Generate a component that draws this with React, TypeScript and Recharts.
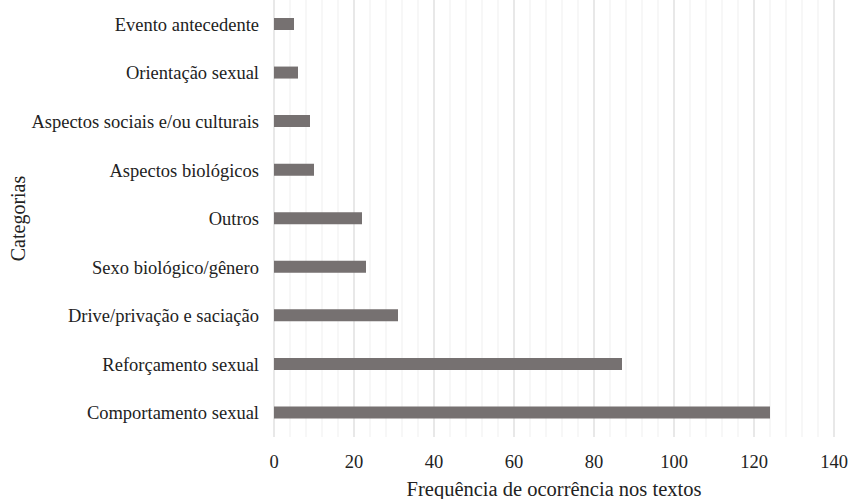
import React from 'react'
import { Bar, BarChart, CartesianGrid, XAxis, YAxis } from 'recharts'

const categories = [
  'Evento antecedente',
  'Orientação sexual',
  'Aspectos sociais e/ou culturais',
  'Aspectos biológicos',
  'Outros',
  'Sexo biológico/gênero',
  'Drive/privação e saciação',
  'Reforçamento sexual',
  'Comportamento sexual',
]
const values = [5, 6, 9, 10, 22, 23, 31, 87, 124]
const xDomain: [number, number] = [0, 140]
const majorTicks = [0, 20, 40, 60, 80, 100, 120, 140]
const minorTicks = [
  0, 4, 8, 12, 16, 20, 24, 28, 32, 36, 40, 44, 48, 52, 56, 60, 64, 68, 72, 76,
  80, 84, 88, 92, 96, 100, 104, 108, 112, 116, 120, 124, 128, 132, 136, 140,
]

const data = categories.map((name, i) => ({ name, value: values[i] }))

const font = 'Liberation Serif, Times New Roman, serif'

// minor grid positions, every 4 units across the plot
const minorGrid = ({ xAxis, offset }: any) => {
  const s = xAxis && xAxis.scale
  if (typeof s === 'function') return minorTicks.map((t) => s(t))
  const [d0, d1] = xDomain
  return minorTicks.map((t) => offset.left + (offset.width * (t - d0)) / (d1 - d0))
}

export default function App() {
  return (
    <div style={{ position: 'absolute', left: 0, top: 0, width: 848, height: 499, background: '#fff' }}>
      <BarChart
        width={848}
        height={499}
        data={data}
        layout="vertical"
        margin={{ top: 0, right: 14, bottom: 0, left: 0 }}
        style={{ fontFamily: font }}
      >
        <CartesianGrid
          horizontal={false}
          stroke="#efefef"
          strokeWidth={1}
          verticalCoordinatesGenerator={minorGrid}
        />
        <CartesianGrid horizontal={false} stroke="#d9d9d9" strokeWidth={1} />
        <XAxis
          type="number"
          domain={xDomain}
          ticks={majorTicks}
          interval={0}
          height={62}
          tickSize={0}
          tickMargin={18}
          axisLine={false}
          tickLine={false}
          tick={{ fill: '#222', fontSize: 18.5, fontFamily: font }}
          label={{
            value: 'Frequência de ocorrência nos textos',
            position: 'insideBottom',
            offset: 3,
            style: { fill: '#222', fontSize: 20.5, fontFamily: font },
          }}
        />
        <YAxis
          type="category"
          dataKey="name"
          width={274}
          tickSize={0}
          tickMargin={15}
          axisLine={false}
          tickLine={false}
          interval={0}
          tick={{ fill: '#222', fontSize: 18.5, fontFamily: font }}
          label={{
            value: 'Categorias',
            angle: -90,
            position: 'insideLeft',
            offset: 18,
            style: { fill: '#222', fontSize: 20, fontFamily: font, textAnchor: 'middle' },
          }}
        />
        <Bar dataKey="value" fill="#767171" barSize={12} isAnimationActive={false} />
      </BarChart>
    </div>
  )
}
